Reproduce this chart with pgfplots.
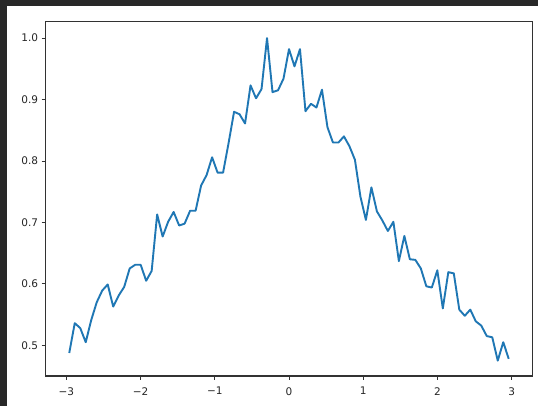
\documentclass[border=0pt]{standalone}
\usepackage{pgfplots}
\pgfplotsset{compat=1.18}
\usepackage{fontspec}
\setmainfont{DejaVu Sans}
\definecolor{mplblue}{HTML}{1F77B4}
\definecolor{darkbg}{RGB}{40,40,40}
\definecolor{framegray}{RGB}{50,50,50}
\begin{document}
\begin{tikzpicture}[x=1pt,y=1pt]
\useasboundingbox (0,0) rectangle (538,406);
\fill[darkbg] (0,0) rectangle (538,406);
\fill[white] (7.3,0) rectangle (538,400);
\begin{axis}[
  name=ax,
  at={(45.5pt,30pt)}, anchor=south west,
  scale only axis, width=487pt, height=354.5pt,
  xmin=-3.28, xmax=3.28, ymin=0.45, ymax=1.027,
  xtick={-3,-2,-1,0,1,2,3},
  xticklabels={−3,−2,−1,0,1,2,3},
  ytick={0.5,0.6,0.7,0.8,0.9,1.0},
  yticklabels={0.5,0.6,0.7,0.8,0.9,1.0},
  xtick pos=bottom, ytick pos=left, tick align=outside,
  major tick length=3.8pt,
  every tick/.style={framegray, line width=0.9pt},
  axis line style={framegray, line width=1.3pt},
  tick label style={font=\fontsize{10.5}{12}\selectfont, text=black!85},
  xticklabel style={yshift=-4pt},
  clip=true,
]
\addplot[mplblue, line width=1.9pt, line join=round] table {
x y
-2.960 0.4875
-2.886 0.536
-2.812 0.528
-2.738 0.505
-2.664 0.541
-2.590 0.570
-2.516 0.589
-2.442 0.599
-2.368 0.563
-2.294 0.581
-2.220 0.595
-2.146 0.625
-2.072 0.631
-1.998 0.631
-1.924 0.605
-1.850 0.621
-1.776 0.713
-1.702 0.677
-1.628 0.701
-1.554 0.717
-1.480 0.695
-1.406 0.698
-1.332 0.719
-1.258 0.719
-1.184 0.760
-1.110 0.777
-1.036 0.806
-0.962 0.781
-0.888 0.781
-0.814 0.829
-0.740 0.880
-0.666 0.876
-0.592 0.861
-0.518 0.923
-0.444 0.902
-0.370 0.917
-0.296 1.000
-0.222 0.912
-0.148 0.915
-0.074 0.934
0.000 0.982
0.074 0.954
0.148 0.982
0.222 0.881
0.296 0.893
0.370 0.887
0.444 0.916
0.518 0.855
0.592 0.830
0.666 0.830
0.740 0.840
0.814 0.824
0.888 0.802
0.962 0.742
1.036 0.704
1.110 0.757
1.184 0.718
1.258 0.703
1.332 0.686
1.406 0.701
1.480 0.637
1.554 0.678
1.628 0.640
1.702 0.639
1.776 0.625
1.850 0.596
1.924 0.594
1.998 0.622
2.072 0.560
2.146 0.619
2.220 0.617
2.294 0.558
2.368 0.548
2.442 0.558
2.516 0.539
2.590 0.532
2.664 0.515
2.738 0.513
2.812 0.475
2.886 0.505
2.960 0.478
};
\end{axis}
\draw[framegray, line width=1.8pt] (45.5,30) rectangle (532.5,384.5);
\end{tikzpicture}
\end{document}
